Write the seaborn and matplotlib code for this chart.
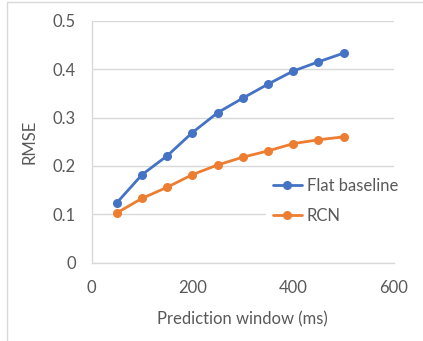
import matplotlib
matplotlib.use("Agg")
import matplotlib.pyplot as plt
from matplotlib.lines import Line2D
import pandas as pd
import seaborn as sns

# Prediction window (ms) and RMSE of each model
window_ms = [50, 100, 150, 200, 250, 300, 350, 400, 450, 500]
flat_baseline = [0.124, 0.182, 0.221, 0.269, 0.310, 0.340, 0.369, 0.396, 0.415, 0.433]
rcn = [0.103, 0.133, 0.156, 0.182, 0.202, 0.218, 0.231, 0.246, 0.254, 0.260]
series_names = ["Flat baseline", "RCN"]
series_colors = ["#4472C4", "#ED7D31"]
x_ticks = [0, 200, 400, 600]
y_ticks = [0, 0.1, 0.2, 0.3, 0.4, 0.5]

df = pd.DataFrame({
    "window": window_ms * 2,
    "rmse": flat_baseline + rcn,
    "model": [series_names[0]] * len(window_ms) + [series_names[1]] * len(window_ms),
})

sns.set_theme(style="white")
plt.rcParams["font.family"] = ["Lato", "DejaVu Sans"]

text_gray = "#595959"
line_gray = "#D9D9D9"

fig = plt.figure(figsize=(4.23, 3.41), dpi=100)
ax = fig.add_axes([0.2168, 0.2296, 0.9314 - 0.2168, 0.9393 - 0.2296])

sns.lineplot(data=df, x="window", y="rmse", hue="model", hue_order=series_names,
             palette=series_colors, marker="o", markersize=6.5, markeredgewidth=0,
             linewidth=2.0, ax=ax, legend=False)

ax.set_xlim(0, 600)
ax.set_ylim(0, 0.5)
ax.set_xticks(x_ticks)
ax.set_yticks(y_ticks)
ax.set_xticklabels([str(t) for t in x_ticks])
ax.set_yticklabels(["0" if t == 0 else f"{t:.1f}" for t in y_ticks])

ax.grid(axis="y", color=line_gray, linewidth=1.0)
ax.grid(axis="x", visible=False)
ax.set_axisbelow(True)
for side in ["top", "right"]:
    ax.spines[side].set_visible(False)
for side in ["left", "bottom"]:
    ax.spines[side].set_color(line_gray)
    ax.spines[side].set_linewidth(1.0)

ax.tick_params(axis="both", direction="out", length=4.5, width=1.0, color=line_gray,
               labelsize=12, labelcolor=text_gray)
ax.tick_params(axis="y", pad=7)
ax.tick_params(axis="x", pad=8)

ax.set_xlabel("Prediction window (ms)", fontsize=12, color=text_gray)
ax.set_ylabel("RMSE", fontsize=12, color=text_gray)
ax.xaxis.set_label_coords(0.5, -0.2)
ax.yaxis.set_label_coords(-0.18, 0.5)

handles = [Line2D([0], [0], color=c, linewidth=2.0, marker="o", markersize=6.5,
                  markeredgewidth=0) for c in series_colors]
leg = ax.legend(handles, series_names, loc="center left",
                bbox_to_anchor=(0.629, 0.411), bbox_transform=fig.transFigure,
                borderaxespad=0, frameon=True, fontsize=12, handlelength=1.75,
                handletextpad=0.3, labelspacing=0.85, borderpad=0.4)
leg.get_frame().set_facecolor("white")
leg.get_frame().set_edgecolor("none")
leg.get_frame().set_alpha(1.0)
for t in leg.get_texts():
    t.set_color(text_gray)

# Chart-area border on the top and left edges
fig.add_artist(Line2D([7 / 423, 1.0], [1 - 2 / 341, 1 - 2 / 341],
                      transform=fig.transFigure, color=line_gray, linewidth=1.0))
fig.add_artist(Line2D([7 / 423, 7 / 423], [0.0, 1 - 2 / 341],
                      transform=fig.transFigure, color=line_gray, linewidth=1.0))

fig.savefig("out.png", dpi=100, facecolor="white")
